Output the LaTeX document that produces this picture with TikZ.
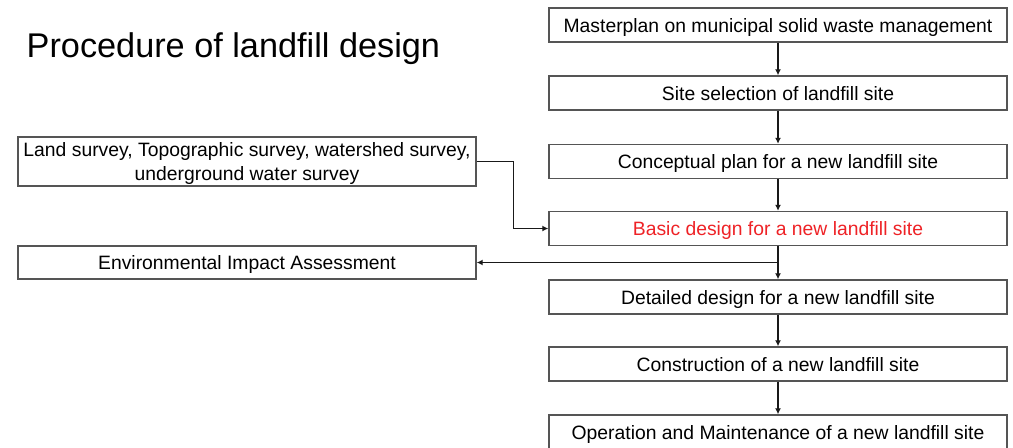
\documentclass[tikz,border=0pt]{standalone}
\usepackage{fontspec}
\setmainfont{Liberation Sans}
\usetikzlibrary{arrows.meta}
\definecolor{boxline}{RGB}{85,85,85}
\definecolor{connline}{RGB}{25,25,25}
\definecolor{redtext}{RGB}{238,34,38}
\tikzset{
  stepbox/.style={draw=boxline, line width=1.1pt, minimum width=458*0.75pt, minimum height=34*0.75pt, inner sep=0pt, text depth=0pt, font=\fontsize{14.5pt}{18pt}\selectfont, align=center},
  conn/.style={draw=connline, line width=1.1pt},
  arr/.style={conn, -{Latex[length=4.5pt,width=4.5pt]}}
}
\begin{document}
\begin{tikzpicture}[x=0.75pt,y=-0.75pt]
\useasboundingbox (0,0) rectangle (1013,447);
\begin{scope}
\clip (0,0) rectangle (1013,447);
\node[anchor=west, font=\fontsize{25.7pt}{30pt}\selectfont] (title) at (22,49) {Procedure of landfill design};
\node[stepbox] (b1) at (778,25) {Masterplan on municipal solid waste management};
\node[stepbox] (b2) at (778,93) {Site selection of landfill site};
\node[stepbox] (b3) at (778,161.5) {Conceptual plan for a new landfill site};
\node[stepbox, text=redtext] (b4) at (778,228.5) {Basic design for a new landfill site};
\node[stepbox] (b5) at (778,297) {Detailed design for a new landfill site};
\node[stepbox] (b6) at (778,364) {Construction of a new landfill site};
\node[stepbox] (b7) at (778,432) {Operation and Maintenance of a new landfill site};
\node[stepbox, minimum height=49*0.75pt] (l1) at (247,161.5) {Land survey, Topographic survey, watershed survey,\\underground water survey};
\node[stepbox, minimum height=33*0.75pt] (l2) at (247,262.5) {Environmental Impact Assessment};
\draw[arr] (b1) -- (b2);
\draw[arr] (b2) -- (b3);
\draw[arr] (b3) -- (b4);
\draw[arr] (b4) -- (b5);
\draw[arr] (b5) -- (b6);
\draw[arr] (b6) -- (b7);
\coordinate (j) at (b4.south |- l2.east);
\draw[arr] (l1.east) -- ++(37,0) |- (b4.west);
\draw[arr] (j) -- (l2.east);
\end{scope}
\end{tikzpicture}
\end{document}
